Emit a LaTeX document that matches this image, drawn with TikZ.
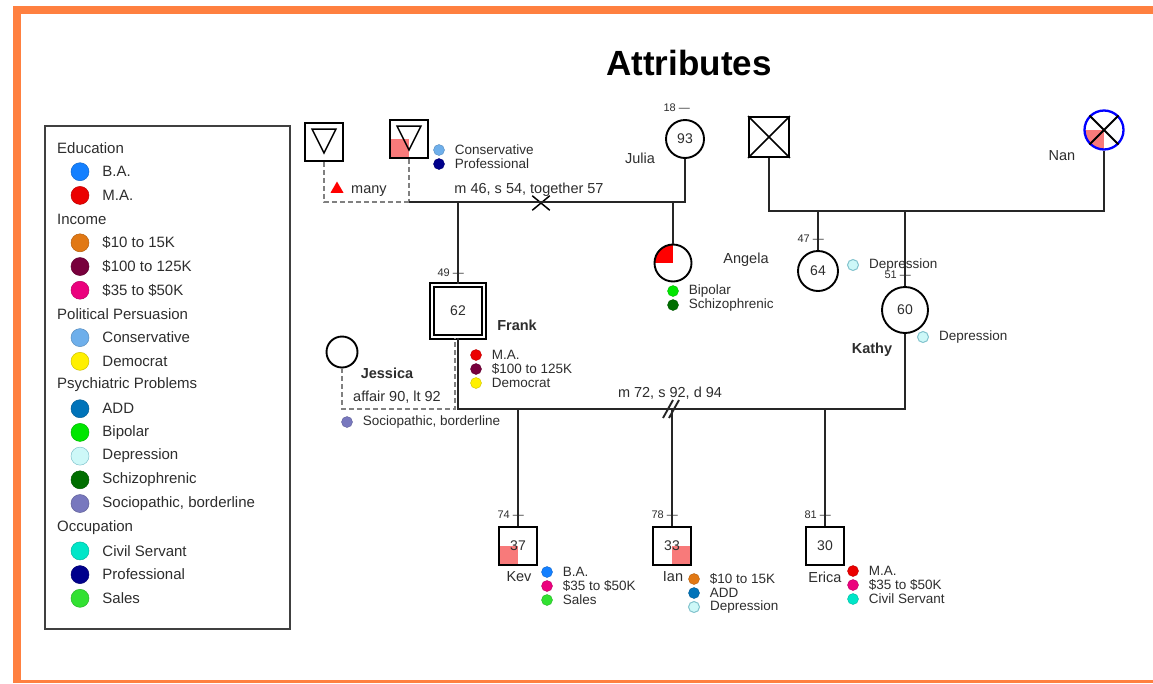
\documentclass[tikz,border=0pt]{standalone}
\usepackage{fontspec}
\setmainfont{Liberation Sans}
\usetikzlibrary{positioning,shapes.misc,shapes.geometric}

\definecolor{frameorange}{RGB}{255,128,64}
\definecolor{txtgray}{RGB}{45,45,45}
\definecolor{salmon}{RGB}{248,122,122}
\definecolor{cBA}{RGB}{20,128,255}
\definecolor{cMA}{RGB}{235,0,0}
\definecolor{cLow}{RGB}{225,120,20}
\definecolor{cHigh}{RGB}{120,0,60}
\definecolor{cMid}{RGB}{235,0,125}
\definecolor{cCons}{RGB}{110,175,235}
\definecolor{cDem}{RGB}{255,240,0}
\definecolor{cADD}{RGB}{0,115,185}
\definecolor{cBip}{RGB}{0,230,0}
\definecolor{cDep}{RGB}{205,248,248}
\definecolor{cDepEdge}{RGB}{130,195,205}
\definecolor{cSchiz}{RGB}{0,110,0}
\definecolor{cSocio}{RGB}{120,120,190}
\definecolor{cCivil}{RGB}{0,230,200}
\definecolor{cProf}{RGB}{0,0,140}
\definecolor{cSales}{RGB}{50,225,50}

\tikzstyle{male} = [
rectangle,
draw=black,
line width=1.9pt,
minimum size=38pt,
inner sep=0pt,
text=txtgray,
font=\fontsize{14}{16}\selectfont
]
\tikzstyle{female} = [
circle,
draw=black,
line width=1.9pt,
minimum size=38pt,
inner sep=0pt,
text=txtgray,
font=\fontsize{14}{16}\selectfont
]
\tikzstyle{link} = [
line width=1.9pt,
draw=black!85
]
\tikzstyle{affair} = [
line width=1.6pt,
dash pattern=on 5pt off 3pt,
draw=black!50
]
\tikzstyle{dot} = [
circle,
inner sep=0pt,
minimum size=11pt,
line width=0.4pt
]
\tikzstyle{keydot} = [
circle,
inner sep=0pt,
minimum size=18pt,
line width=0.5pt
]
\tikzstyle{attr} = [
inner sep=0pt,
xshift=10pt,
text=txtgray,
font=\fontsize{13.5}{14}\selectfont
]
\tikzstyle{keyhead} = [
inner sep=0pt,
anchor=west,
text=txtgray,
font=\fontsize{15}{17}\selectfont
]
\tikzstyle{keytext} = [
inner sep=0pt,
xshift=13pt,
text=txtgray,
font=\fontsize{15}{17}\selectfont
]
\tikzstyle{age} = [
anchor=east,
inner sep=0pt,
text=txtgray,
font=\fontsize{11}{12}\selectfont
]
\tikzstyle{personlbl} = [
inner sep=0pt,
text=txtgray,
font=\fontsize{14.5}{16}\selectfont
]
\tikzstyle{boldlbl} = [
personlbl,
font=\bfseries\fontsize{14.5}{16}\selectfont
]

\begin{document}
\begin{tikzpicture}[
x=1pt,
y=-1pt
]

\useasboundingbox (0,0) rectangle (1153,683);

\fill[frameorange] (13,6) rectangle (1153,14);
\fill[frameorange] (13,6) rectangle (21,683);
\fill[frameorange] (13,680) rectangle (1153,683);

\node (title) [font=\bfseries\fontsize{35}{40}\selectfont] at (689,63) {Attributes};

\node (legend) [draw=black!75, line width=1.2pt, minimum width=245pt,
minimum height=503pt, inner sep=0pt] at (167.5,377.5) {};

\node (k-edu) [keyhead] at (57,148) {Education};
\node (k-ba) [keydot, fill=cBA, draw=cBA!80!black, label={[keytext]right:B.A.}] at (80,171.7) {};
\node (k-ma) [keydot, fill=cMA, draw=cMA!80!black, label={[keytext]right:M.A.}] at (80,195.4) {};
\node (k-inc) [keyhead] at (57,219.1) {Income};
\node (k-low) [keydot, fill=cLow, draw=cLow!80!black, label={[keytext]right:\$10 to 15K}] at (80,242.8) {};
\node (k-high) [keydot, fill=cHigh, draw=cHigh!80!black, label={[keytext]right:\$100 to 125K}] at (80,266.5) {};
\node (k-mid) [keydot, fill=cMid, draw=cMid!80!black, label={[keytext]right:\$35 to \$50K}] at (80,290.2) {};
\node (k-pol) [keyhead] at (57,313.9) {Political Persuasion};
\node (k-cons) [keydot, fill=cCons, draw=cCons!80!black, label={[keytext]right:Conservative}] at (80,337.6) {};
\node (k-dem) [keydot, fill=cDem, draw=cDem!80!black, label={[keytext]right:Democrat}] at (80,361.3) {};
\node (k-psy) [keyhead] at (57,385) {Psychiatric Problems};
\node (k-add) [keydot, fill=cADD, draw=cADD!80!black, label={[keytext]right:ADD}] at (80,408.7) {};
\node (k-bip) [keydot, fill=cBip, draw=cBip!80!black, label={[keytext]right:Bipolar}] at (80,432.4) {};
\node (k-dep) [keydot, fill=cDep, draw=cDepEdge, label={[keytext]right:Depression}] at (80,456.1) {};
\node (k-schiz) [keydot, fill=cSchiz, draw=cSchiz!80!black, label={[keytext]right:Schizophrenic}] at (80,479.8) {};
\node (k-socio) [keydot, fill=cSocio, draw=cSocio!80!black, label={[keytext]right:{Sociopathic, borderline}}] at (80,503.5) {};
\node (k-occ) [keyhead] at (57,527.2) {Occupation};
\node (k-civil) [keydot, fill=cCivil, draw=cCivil!80!black, label={[keytext]right:Civil Servant}] at (80,550.9) {};
\node (k-prof) [keydot, fill=cProf, draw=cProf!80!black, label={[keytext]right:Professional}] at (80,574.6) {};
\node (k-sales) [keydot, fill=cSales, draw=cSales!80!black, label={[keytext]right:Sales}] at (80,598.3) {};

\node (tri1) [male] at (324,142) {};
\draw[line width=1.5pt] ([shift={(-12,-13)}]tri1.center) -- ([shift={(12,-13)}]tri1.center)
-- ([shift={(0,11)}]tri1.center) -- cycle;

\node (tri2) [male, path picture={\fill[salmon] (path picture bounding box.center)
rectangle (path picture bounding box.south west);}] at (409,139) {};
\draw[line width=1.5pt] ([shift={(-12,-13)}]tri2.center) -- ([shift={(12,-13)}]tri2.center)
-- ([shift={(0,11)}]tri2.center) -- cycle;

\node (tri2-cons) [dot, fill=cCons, draw=cCons!80!black, label={[attr]right:Conservative}] at (439,150) {};
\node (tri2-prof) [dot, fill=cProf, draw=cProf!80!black, label={[attr]right:Professional}] at (439,164) {};

\node (many) [regular polygon, regular polygon sides=3, fill=red, inner sep=0pt,
minimum size=15pt] at (337,189) {};
\node (many-lbl) [personlbl, anchor=west] at (351,191) {many};

\node (julia) [female] at (685,139) {93};
\node (julia-age) [age] at ([shift={(5,-11)}]julia.north) {18 —};
\node (julia-lbl) [personlbl] at (640,158) {Julia};

\node (rel1) [personlbl] at (529,190) {m 46, s 54, together 57};
\node (sep1) [draw=black, cross out, line width=1.5pt, minimum width=16pt,
minimum height=13pt, inner sep=0pt] at (541,203) {};

\node (angela) [female, minimum size=37pt, path picture={\fill[red] (path picture bounding box.center)
rectangle (path picture bounding box.north west);}] at (673,263) {};
\node (angela-lbl) [personlbl] at (746,260) {Angela};
\node (angela-bip) [dot, fill=cBip, draw=cBip!80!black, label={[attr]right:Bipolar}] at (673,291) {};
\node (angela-schiz) [dot, fill=cSchiz, draw=cSchiz!80!black, label={[attr]right:Schizophrenic}] at (673,305) {};

\node (frank) [male, double, double distance=2.4pt, line width=1.6pt, minimum size=52pt] at (458,311) {62};
\node (frank-age) [age] at ([shift={(6,-11)}]frank.north) {49 —};
\node (frank-lbl) [boldlbl] at (517,325) {Frank};
\node (frank-ma) [dot, fill=cMA, draw=cMA!80!black, label={[attr]right:M.A.}] at (476,355) {};
\node (frank-inc) [dot, fill=cHigh, draw=cHigh!80!black, label={[attr]right:\$100 to 125K}] at (476,369) {};
\node (frank-dem) [dot, fill=cDem, draw=cDem!80!black, label={[attr]right:Democrat}] at (476,383) {};

\node (jessica) [female, minimum size=31pt] at (342,352) {};
\node (jessica-lbl) [boldlbl] at (387,373) {Jessica};
\node (rel-aff) [personlbl] at (397,397) {affair 90, lt 92};
\node (jessica-soc) [dot, fill=cSocio, draw=cSocio!80!black, label={[attr]right:{Sociopathic, borderline}}] at (347,422) {};

\node (dm) [male, minimum size=40pt] at (769,137) {};
\draw[line width=1.5pt] (dm.north west) -- (dm.south east) (dm.north east) -- (dm.south west);

\node (nan) [female, draw=blue, line width=2.3pt, minimum size=39pt, path picture={\fill[salmon] (path picture bounding box.center)
rectangle (path picture bounding box.south west);}] at (1104,130) {};
\draw[line width=1.9pt] (nan.north west) -- (nan.south east) (nan.north east) -- (nan.south west);
\node (nan-lbl) [personlbl] at (1062,156) {Nan};

\node (p64) [female, minimum size=40pt] at (818,271) {64};
\node (p64-age) [age] at ([shift={(6,-11)}]p64.north) {47 —};
\node (p64-dep) [dot, fill=cDep, draw=cDepEdge, line width=1pt, label={[attr]right:Depression}] at (853,265) {};

\node (kathy) [female, minimum size=46pt] at (905,310) {60};
\node (kathy-age) [age] at ([shift={(6,-11)}]kathy.north) {51 —};
\node (kathy-lbl) [boldlbl] at (872,350) {Kathy};
\node (kathy-dep) [dot, fill=cDep, draw=cDepEdge, line width=1pt, label={[attr]right:Depression}] at (923,337) {};

\node (rel2) [personlbl] at (670,393) {m 72, s 92, d 94};

\node (kev) [male, path picture={\fill[salmon] (path picture bounding box.center)
rectangle (path picture bounding box.south west);}] at (518,546) {37};
\node (kev-age) [age] at ([shift={(6,-11)}]kev.north) {74 —};
\node (kev-lbl) [personlbl] at (519,577) {Kev};
\node (kev-ba) [dot, fill=cBA, draw=cBA!80!black, label={[attr]right:B.A.}] at (547,572) {};
\node (kev-inc) [dot, fill=cMid, draw=cMid!80!black, label={[attr]right:\$35 to \$50K}] at (547,586) {};
\node (kev-occ) [dot, fill=cSales, draw=cSales!80!black, label={[attr]right:Sales}] at (547,600) {};

\node (ian) [male, path picture={\fill[salmon] (path picture bounding box.center)
rectangle (path picture bounding box.south east);}] at (672,546) {33};
\node (ian-age) [age] at ([shift={(6,-11)}]ian.north) {78 —};
\node (ian-lbl) [personlbl] at (673,577) {Ian};
\node (ian-inc) [dot, fill=cLow, draw=cLow!80!black, label={[attr]right:\$10 to 15K}] at (694,579) {};
\node (ian-add) [dot, fill=cADD, draw=cADD!80!black, label={[attr]right:ADD}] at (694,593) {};
\node (ian-dep) [dot, fill=cDep, draw=cDepEdge, line width=1pt, label={[attr]right:Depression}] at (694,607) {};

\node (erica) [male] at (825,546) {30};
\node (erica-age) [age] at ([shift={(6,-11)}]erica.north) {81 —};
\node (erica-lbl) [personlbl] at (825,577) {Erica};
\node (erica-ma) [dot, fill=cMA, draw=cMA!80!black, label={[attr]right:M.A.}] at (853,571) {};
\node (erica-inc) [dot, fill=cMid, draw=cMid!80!black, label={[attr]right:\$35 to \$50K}] at (853,585) {};
\node (erica-occ) [dot, fill=cCivil, draw=cCivil!80!black, label={[attr]right:Civil Servant}] at (853,599) {};

\coordinate (m1) at (409,202);
\coordinate (m2) at (458,409);
\coordinate (m3) at (769,211);
\coordinate (aff) at (455,409);

\draw [affair] (tri1.south) |- (m1);

\draw [affair] (tri2.south) -- (m1);

\draw [link] (m1) -| (julia.south);

\draw [link] (frank.north) -- (frank.north |- m1);

\draw [link] (angela.north) -- (angela.north |- m1);

\draw [link] (dm.south) -- (m3) -| (nan.south);

\draw [link] (p64.north) -- (p64.north |- m3);

\draw [link] (kathy.north) -- (kathy.north |- m3);

\draw [link] (frank.south) -- (m2) -- (m2 -| kathy.south) -- (kathy.south);

\draw [affair] (jessica.south) |- (aff) -- (aff |- frank.south);

\draw [link] (kev.north) -- (kev.north |- m2);

\draw [link] (ian.north) -- (ian.north |- m2);

\draw [link] (erica.north) -- (erica.north |- m2);

\draw [link] ([shift={(-9,9)}]ian.north |- m2) -- ([shift={(1,-9)}]ian.north |- m2);

\draw [link] ([shift={(-3,9)}]ian.north |- m2) -- ([shift={(7,-9)}]ian.north |- m2);

\end{tikzpicture}
\end{document}
